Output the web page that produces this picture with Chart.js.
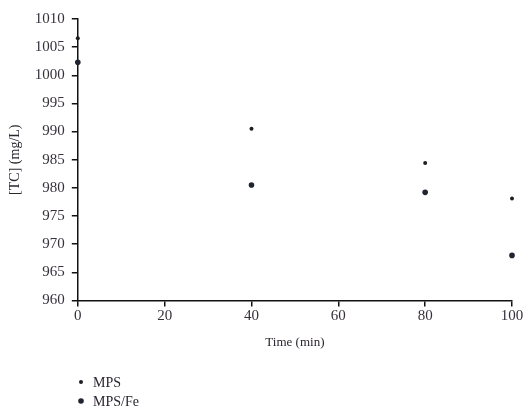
<!DOCTYPE html>
<html>
<head>
<meta charset="utf-8">
<script src="https://cdn.jsdelivr.net/npm/chart.js@4/dist/chart.umd.min.js"></script>
<style>
  html, body { margin: 0; padding: 0; background: #fff; }
  #wrap { width: 526px; height: 409px; position: relative; }
</style>
</head>
<body>
<div id="wrap"><canvas id="chart"></canvas></div>
<script>
// data
const timeMin = [0, 40, 80, 100];
const mps = [1006.6, 990.5, 984.4, 978.1];
const mpsFe = [1002.3, 980.5, 979.2, 968.0];
const xTicks = [0, 20, 40, 60, 80, 100];
const yTicks = [960, 965, 970, 975, 980, 985, 990, 995, 1000, 1005, 1010];

const serif = "'Liberation Serif', 'DejaVu Serif', serif";
const tickColor = '#36313d';

function pts(ys){
    return timeMin.map((t, i) => ({ x: t, y: ys[i] }));
}

// legend stacked under the plot, drawn by hand
const stackLegend = {
    id: 'stackLegend',
    afterDraw(chart){
        const ctx = chart.ctx;
        ctx.save();
        ctx.font = '14px ' + serif;
        ctx.textBaseline = 'middle';
        chart.data.datasets.forEach((ds, i) => {
            const y = 382 + i * 19;
            ctx.fillStyle = ds.backgroundColor;
            ctx.beginPath();
            ctx.arc(81, y, ds.pointRadius, 0, Math.PI * 2);
            ctx.fill();
            ctx.fillStyle = '#2a2530';
            ctx.fillText(ds.label, 93, y + 1);
        });
        ctx.restore();
    }
};

const config = {
    type: 'scatter',
    data: {
        datasets: [{
            label: 'MPS',
            data: pts(mps),
            backgroundColor: '#1d1d22',
            borderColor: '#1d1d22',
            pointRadius: 2,
            pointBorderWidth: 0,
            clip: false
        },
        {
            label: 'MPS/Fe',
            data: pts(mpsFe),
            backgroundColor: '#1f2430',
            borderColor: '#1f2430',
            pointRadius: 2.8,
            pointBorderWidth: 0,
            clip: false
        }]
    },
    options: {
        responsive: true,
        maintainAspectRatio: false,
        animation: false,
        layout: {
            padding: { left: 3, right: 14, top: 19, bottom: 55 }
        },
        plugins: {
            legend: { display: false },
            tooltip: { enabled: false }
        },
        scales: {
            x: {
                type: 'linear',
                min: 0,
                max: 100,
                afterBuildTicks: (axis) => { axis.ticks = xTicks.map(v => ({ value: v })); },
                grid: { display: true, drawOnChartArea: false, drawTicks: true, tickLength: 6, color: '#111', lineWidth: 1.5 },
                border: { display: true, color: '#111', width: 1.5 },
                ticks: { color: tickColor, font: { family: serif, size: 15 }, padding: 1, callback: v => String(v) },
                title: { display: true, text: 'Time (min)', color: '#2a2530', font: { family: serif, size: 13 }, padding: { top: 8 } }
            },
            y: {
                type: 'linear',
                min: 960,
                max: 1010,
                afterBuildTicks: (axis) => { axis.ticks = yTicks.map(v => ({ value: v })); },
                grid: { display: true, drawOnChartArea: false, drawTicks: true, tickLength: 6, color: '#111', lineWidth: 1.5 },
                border: { display: true, color: '#111', width: 1.5 },
                ticks: { color: tickColor, font: { family: serif, size: 15 }, padding: 7, callback: v => String(v) },
                title: { display: true, text: '[TC] (mg/L)', color: '#2a2530', font: { family: serif, size: 14 }, padding: { bottom: 4 } }
            }
        }
    },
    plugins: [stackLegend]
};

const myChart = new Chart(document.getElementById('chart'), config);
</script>
</body>
</html>
